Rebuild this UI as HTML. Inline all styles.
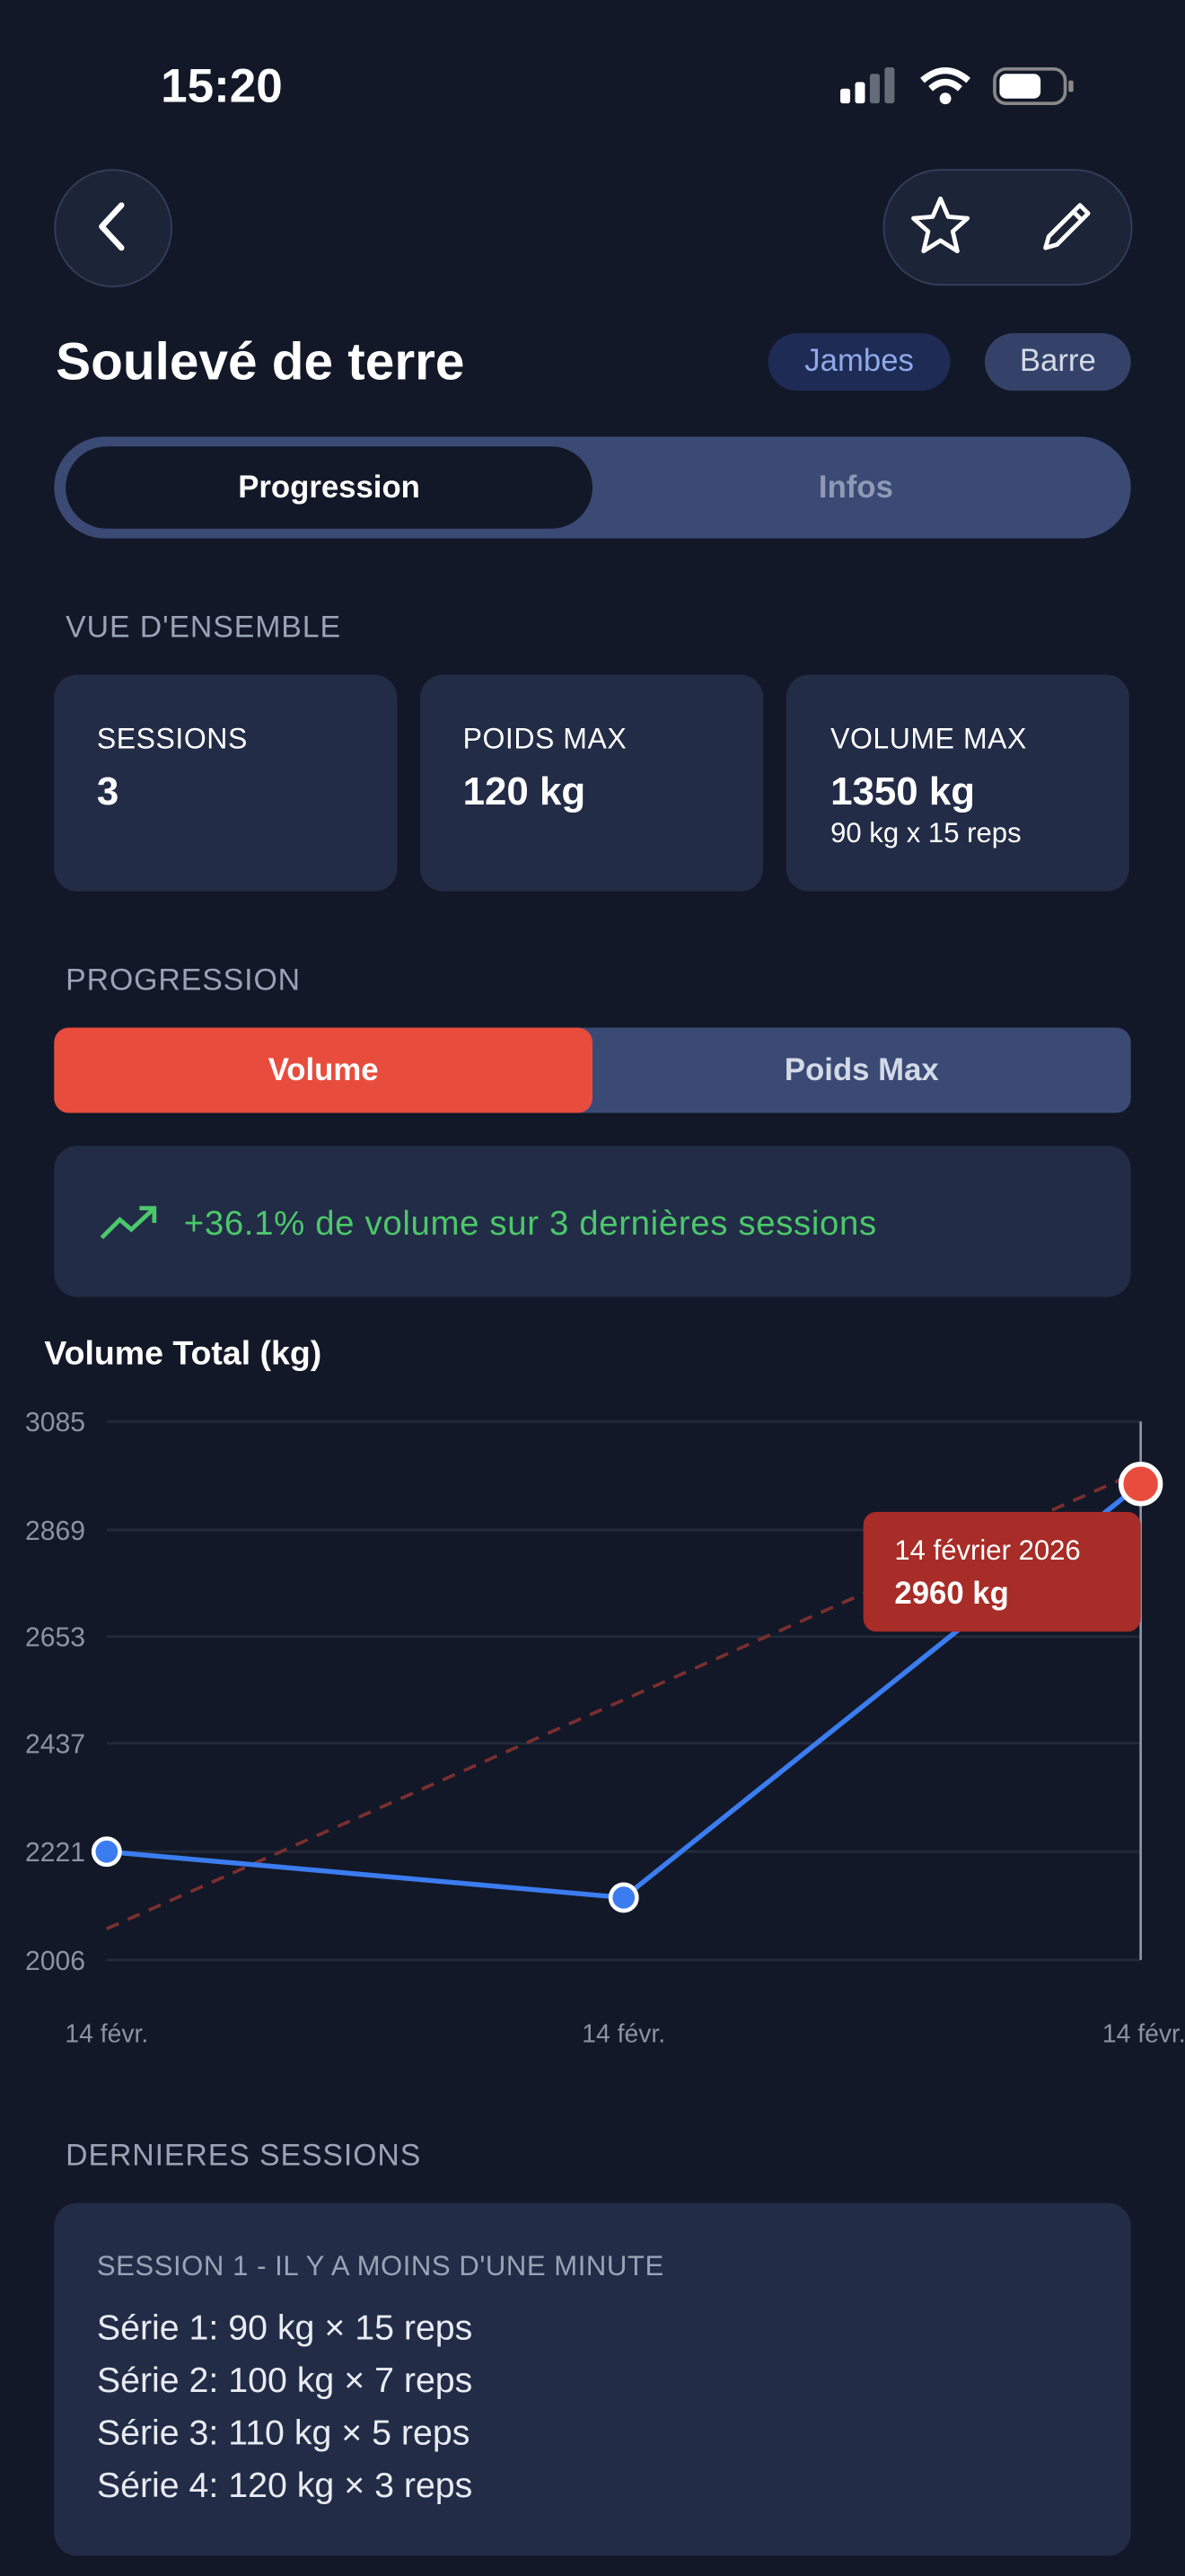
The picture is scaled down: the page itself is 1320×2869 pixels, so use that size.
<!DOCTYPE html>
<html><head><meta charset="utf-8"><style>
html,body{margin:0;padding:0;background:#121827;}
body{width:1320px;height:2868px;overflow:hidden;}
#w{width:722px;height:1569px;transform:scale(1.82825);transform-origin:0 0;position:relative;font-family:"Liberation Sans",sans-serif;color:#fff;}
.a{position:absolute;}
.card{background:#222c47;border-radius:14px;}
.lbl{color:#9aa3b5;font-size:18.5px;letter-spacing:.5px;}
.ct{font-size:17.5px;color:#fff;letter-spacing:.3px;}
.cv{font-size:24px;font-weight:bold;}
</style></head><body><div id="w">
<div class="a" style="left:98px;top:37px;font-size:29px;font-weight:bold;">15:20</div>
<svg class="a" style="left:510px;top:40px" width="150" height="26">
<rect x="2" y="14" width="6" height="9" rx="1.5" fill="#fff"/><rect x="11" y="10" width="6" height="13" rx="1.5" fill="#fff"/><rect x="20" y="5" width="6" height="18" rx="1.5" fill="#666b78"/><rect x="29" y="1" width="6" height="22" rx="1.5" fill="#666b78"/>
<path d="M52 9 Q66 -3 80 9" stroke="#fff" stroke-width="4" fill="none"/><path d="M57 14 Q66 6 75 14" stroke="#fff" stroke-width="4" fill="none"/><circle cx="66" cy="20" r="3.5" fill="#fff"/>
<rect x="96" y="2" width="43" height="21" rx="7" stroke="#888" stroke-width="2" fill="none"/><rect x="99" y="5" width="25" height="15" rx="4" fill="#fff"/><rect x="141" y="9" width="3" height="7" rx="1" fill="#888"/>
</svg>
<div class="a" style="left:33px;top:103px;width:70px;height:70px;border-radius:50%;background:#1c2438;border:1px solid #333e5a;"></div>
<svg class="a" style="left:54px;top:122px" width="30" height="32"><path d="M20 3 L8 16 L20 29" stroke="#fff" stroke-width="3.5" fill="none" stroke-linecap="round" stroke-linejoin="round"/></svg>
<div class="a" style="left:538px;top:103px;width:150px;height:69px;border-radius:35px;background:#1c2438;border:1px solid #333e5a;"></div>
<svg class="a" style="left:553px;top:118px" width="40" height="40"><path d="M20 3 L24.7 14 L36.5 15 L27.5 23 L30.3 35 L20 28.5 L9.7 35 L12.5 23 L3.5 15 L15.3 14 Z" stroke="#fff" stroke-width="2.6" fill="none" stroke-linejoin="round"/></svg>
<svg class="a" style="left:632px;top:120px" width="36" height="36"><path d="M5 31 L7 24 L26 5 L31 10 L12 29 Z" stroke="#fff" stroke-width="2.6" fill="none" stroke-linejoin="round"/><path d="M22 9 L27 14" stroke="#fff" stroke-width="2.6"/></svg>
<div class="a" style="left:34px;top:202px;font-size:32px;font-weight:bold;">Soulevé de terre</div>
<div class="a" style="left:468px;top:203px;width:111px;height:35px;border-radius:18px;background:#1d2b55;color:#8fa9e8;font-size:19px;text-align:center;line-height:36px;">Jambes</div>
<div class="a" style="left:600px;top:203px;width:89px;height:35px;border-radius:18px;background:#34426a;color:#d3d9e6;font-size:19px;text-align:center;line-height:36px;">Barre</div>
<div class="a" style="left:33px;top:266px;width:656px;height:62px;border-radius:31px;background:#3a4a75;"></div>
<div class="a" style="left:40px;top:272px;width:321px;height:50px;border-radius:25px;background:#121827;text-align:center;line-height:52px;font-size:19px;font-weight:bold;">Progression</div>
<div class="a" style="left:361px;top:272px;width:321px;height:50px;text-align:center;line-height:52px;font-size:19px;font-weight:bold;color:#8e9ab4;">Infos</div>
<div class="a lbl" style="left:40px;top:371px;">VUE D'ENSEMBLE</div>
<div class="a card" style="left:33px;top:411px;width:209px;height:132px;"></div>
<div class="a card" style="left:256px;top:411px;width:209px;height:132px;"></div>
<div class="a card" style="left:479px;top:411px;width:209px;height:132px;"></div>
<div class="a ct" style="left:59px;top:440px;">SESSIONS</div><div class="a cv" style="left:59px;top:469px;">3</div>
<div class="a ct" style="left:282px;top:440px;">POIDS MAX</div><div class="a cv" style="left:282px;top:469px;">120 kg</div>
<div class="a ct" style="left:506px;top:440px;">VOLUME MAX</div><div class="a cv" style="left:506px;top:469px;">1350 kg</div>
<div class="a" style="left:506px;top:498px;font-size:17px;">90 kg x 15 reps</div>
<div class="a lbl" style="left:40px;top:586px;">PROGRESSION</div>
<div class="a" style="left:33px;top:626px;width:656px;height:52px;border-radius:9px;background:#3a4a75;"></div>
<div class="a" style="left:33px;top:626px;width:328px;height:52px;border-radius:9px;background:#e84c3d;text-align:center;line-height:54px;font-size:19px;font-weight:bold;">Volume</div>
<div class="a" style="left:361px;top:626px;width:328px;height:52px;text-align:center;line-height:54px;font-size:19px;font-weight:bold;color:#d3d9e6;">Poids Max</div>
<div class="a card" style="left:33px;top:698px;width:656px;height:92px;"></div>
<svg class="a" style="left:60px;top:732px" width="38" height="26"><path d="M2 22 L13 11 L20 17 L34 4" stroke="#4cc76a" stroke-width="2.6" fill="none"/><path d="M25 4 L34 4 L34 13" stroke="#4cc76a" stroke-width="2.6" fill="none"/></svg>
<div class="a" style="left:112px;top:734px;font-size:21px;letter-spacing:.35px;color:#4cc76a;">+36.1% de volume sur 3 dernières sessions</div>
<div class="a" style="left:27px;top:813px;font-size:20.5px;font-weight:bold;">Volume Total (kg)</div>
<svg class="a" style="left:0;top:850px" width="722" height="410">
<g stroke="#232a3a" stroke-width="1.5"><line x1="65" y1="16" x2="695" y2="16"/><line x1="65" y1="82" x2="695" y2="82"/><line x1="65" y1="147" x2="695" y2="147"/><line x1="65" y1="212" x2="695" y2="212"/><line x1="65" y1="278" x2="695" y2="278"/><line x1="65" y1="344" x2="695" y2="344"/></g>
<g fill="#8a92a3" font-size="16.5" text-anchor="end" font-family="Liberation Sans"><text x="52" y="22">3085</text><text x="52" y="88">2869</text><text x="52" y="153">2653</text><text x="52" y="218">2437</text><text x="52" y="284">2221</text><text x="52" y="350">2006</text></g>
<line x1="695" y1="16" x2="695" y2="344" stroke="#8a92a3" stroke-width="1.5"/>
<line x1="65" y1="325" x2="695" y2="46" stroke="#7a2f2f" stroke-width="2" stroke-dasharray="8 6"/>
<polyline points="65,278 380,306 695,54" stroke="#3b7cf0" stroke-width="3" fill="none"/>
<circle cx="65" cy="278" r="8" fill="#3b7cf0" stroke="#fff" stroke-width="2.5"/>
<circle cx="380" cy="306" r="8" fill="#3b7cf0" stroke="#fff" stroke-width="2.5"/>
<circle cx="695" cy="54" r="12" fill="#e84c3d" stroke="#fff" stroke-width="3"/>
<rect x="526" y="71" width="169" height="73" rx="8" fill="#a82c27"/>
<text x="545" y="100" fill="#fff" font-size="17" font-family="Liberation Sans">14 février 2026</text>
<text x="545" y="127" fill="#fff" font-size="19" font-weight="bold" font-family="Liberation Sans">2960 kg</text>
<g fill="#8a92a3" font-size="15.5" text-anchor="middle" font-family="Liberation Sans"><text x="65" y="394">14 févr.</text><text x="380" y="394">14 févr.</text><text x="697" y="394">14 févr.</text></g>
</svg>
<div class="a lbl" style="left:40px;top:1302px;">DERNIERES SESSIONS</div>
<div class="a card" style="left:33px;top:1342px;width:656px;height:215px;"></div>
<div class="a" style="left:59px;top:1371px;font-size:17px;letter-spacing:.3px;color:#9aa3b5;">SESSION 1 - IL Y A MOINS D'UNE MINUTE</div>
<div class="a" style="left:59px;top:1402px;font-size:21.5px;line-height:32px;color:#e8ebf2;">Série 1: 90 kg × 15 reps<br>Série 2: 100 kg × 7 reps<br>Série 3: 110 kg × 5 reps<br>Série 4: 120 kg × 3 reps</div>
</div></body></html>
